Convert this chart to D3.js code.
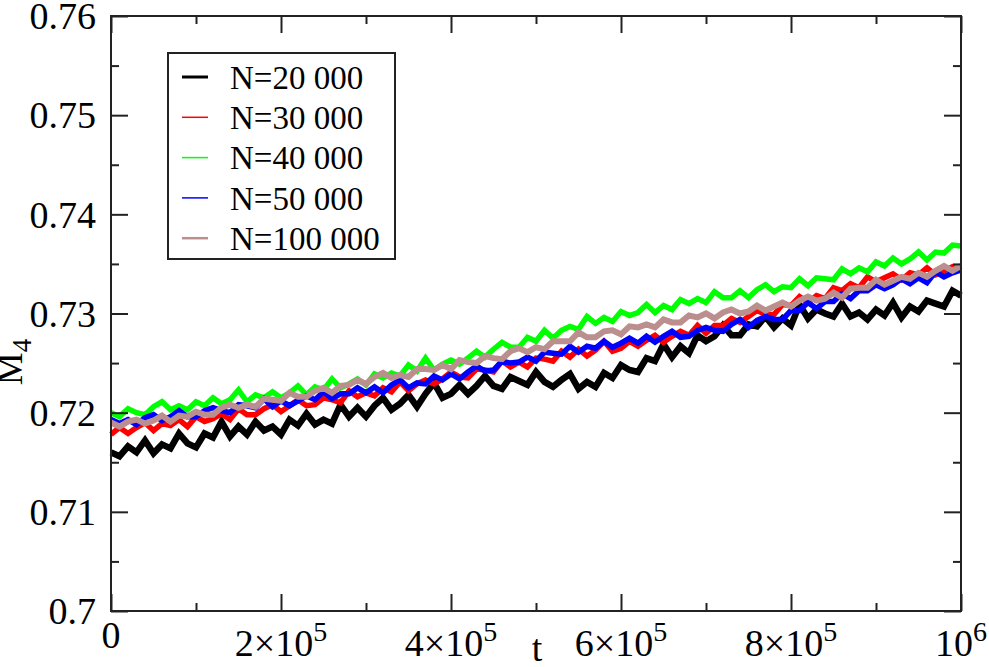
<!DOCTYPE html>
<html>
<head>
<meta charset="utf-8">
<script src="https://cdn.jsdelivr.net/npm/d3@7"></script>
<style>
  body { margin: 0; background: #fff; }
  svg { display: block; }
  text { font-family: "Liberation Serif", "DejaVu Serif", serif; fill: #000; }
</style>
</head>
<body>
<div class="main"></div>
<script>
var width = 989;
var height = 667;
var margin = { left: 111, top: 16, right: 28, bottom: 56 };

// sample times, every 1e4 steps
var tStep = 10000;
var tSamples = d3.range(0, 101).map(k => k * tStep);

var seriesNames = ["N=20 000", "N=30 000", "N=40 000", "N=50 000", "N=100 000"];
var seriesColors = ["#000000", "#ff0000", "#00ff00", "#0000ff", "#bc8f8f"];

var m4N20k = [0.7160,0.7156,0.7166,0.7160,0.7172,0.7159,0.7168,0.7164,0.7179,0.7169,
  0.7165,0.7179,0.7175,0.7191,0.7176,0.7186,0.7178,0.7191,0.7182,0.7186,
  0.7178,0.7193,0.7187,0.7199,0.7188,0.7193,0.7189,0.7208,0.7196,0.7205,
  0.7196,0.7207,0.7215,0.7203,0.7209,0.7218,0.7206,0.7219,0.7230,0.7215,
  0.7219,0.7228,0.7219,0.7227,0.7237,0.7227,0.7224,0.7236,0.7232,0.7228,
  0.7241,0.7231,0.7226,0.7233,0.7239,0.7224,0.7231,0.7226,0.7240,0.7235,
  0.7248,0.7243,0.7241,0.7255,0.7252,0.7269,0.7256,0.7267,0.7260,0.7278,
  0.7272,0.7277,0.7288,0.7278,0.7278,0.7289,0.7287,0.7297,0.7286,0.7295,
  0.7288,0.7309,0.7295,0.7304,0.7300,0.7297,0.7310,0.7297,0.7301,0.7294,
  0.7304,0.7298,0.7311,0.7296,0.7307,0.7302,0.7313,0.7310,0.7307,0.7323,
  0.7318];

var m4N30k = [0.7178,0.7185,0.7179,0.7185,0.7190,0.7182,0.7189,0.7187,0.7193,0.7186,
  0.7196,0.7191,0.7194,0.7199,0.7193,0.7204,0.7198,0.7198,0.7204,0.7208,
  0.7201,0.7207,0.7213,0.7207,0.7208,0.7215,0.7213,0.7210,0.7222,0.7216,
  0.7220,0.7217,0.7225,0.7221,0.7231,0.7222,0.7229,0.7233,0.7229,0.7234,
  0.7241,0.7236,0.7235,0.7244,0.7243,0.7241,0.7252,0.7246,0.7251,0.7246,
  0.7255,0.7254,0.7252,0.7262,0.7256,0.7264,0.7257,0.7263,0.7272,0.7262,
  0.7265,0.7272,0.7267,0.7273,0.7278,0.7271,0.7277,0.7282,0.7278,0.7288,
  0.7280,0.7288,0.7288,0.7295,0.7291,0.7297,0.7303,0.7299,0.7299,0.7309,
  0.7308,0.7317,0.7311,0.7318,0.7315,0.7326,0.7323,0.7330,0.7326,0.7337,
  0.7332,0.7336,0.7340,0.7334,0.7341,0.7339,0.7346,0.7339,0.7343,0.7347,
  0.7343];

var m4N40k = [0.7200,0.7196,0.7204,0.7200,0.7198,0.7206,0.7211,0.7203,0.7207,0.7203,
  0.7211,0.7207,0.7215,0.7209,0.7213,0.7223,0.7211,0.7218,0.7215,0.7221,
  0.7215,0.7220,0.7227,0.7218,0.7226,0.7223,0.7234,0.7225,0.7229,0.7234,
  0.7228,0.7239,0.7235,0.7240,0.7237,0.7248,0.7242,0.7255,0.7243,0.7249,
  0.7253,0.7249,0.7255,0.7262,0.7256,0.7264,0.7271,0.7266,0.7266,0.7276,
  0.7272,0.7283,0.7275,0.7283,0.7287,0.7284,0.7297,0.7290,0.7296,0.7292,
  0.7302,0.7298,0.7301,0.7309,0.7301,0.7308,0.7304,0.7314,0.7310,0.7315,
  0.7311,0.7322,0.7316,0.7316,0.7323,0.7316,0.7324,0.7329,0.7322,0.7327,
  0.7326,0.7335,0.7328,0.7336,0.7335,0.7334,0.7345,0.7340,0.7346,0.7342,
  0.7352,0.7348,0.7356,0.7350,0.7355,0.7362,0.7354,0.7362,0.7361,0.7369,
  0.7368];

var m4N50k = [0.7193,0.7189,0.7193,0.7188,0.7195,0.7198,0.7192,0.7196,0.7202,0.7196,
  0.7196,0.7202,0.7205,0.7202,0.7200,0.7208,0.7207,0.7205,0.7214,0.7206,
  0.7212,0.7207,0.7212,0.7217,0.7213,0.7221,0.7214,0.7219,0.7219,0.7225,
  0.7220,0.7226,0.7220,0.7228,0.7233,0.7225,0.7230,0.7229,0.7237,0.7233,
  0.7239,0.7234,0.7241,0.7247,0.7242,0.7243,0.7252,0.7250,0.7251,0.7256,
  0.7252,0.7261,0.7260,0.7259,0.7267,0.7261,0.7267,0.7265,0.7272,0.7266,
  0.7270,0.7275,0.7270,0.7277,0.7271,0.7277,0.7282,0.7276,0.7277,0.7283,
  0.7286,0.7283,0.7282,0.7289,0.7294,0.7286,0.7293,0.7297,0.7294,0.7294,
  0.7303,0.7303,0.7311,0.7305,0.7312,0.7312,0.7320,0.7315,0.7323,0.7323,
  0.7329,0.7325,0.7329,0.7335,0.7330,0.7336,0.7331,0.7342,0.7337,0.7341,
  0.7344];

var m4N100k = [0.7190,0.7186,0.7191,0.7193,0.7189,0.7192,0.7197,0.7191,0.7197,0.7196,
  0.7201,0.7198,0.7198,0.7205,0.7208,0.7205,0.7208,0.7206,0.7214,0.7213,
  0.7212,0.7220,0.7216,0.7216,0.7222,0.7225,0.7220,0.7227,0.7228,0.7233,
  0.7229,0.7236,0.7240,0.7235,0.7238,0.7236,0.7244,0.7244,0.7243,0.7248,
  0.7244,0.7253,0.7251,0.7250,0.7257,0.7255,0.7254,0.7262,0.7265,0.7261,
  0.7266,0.7264,0.7272,0.7272,0.7272,0.7281,0.7276,0.7276,0.7282,0.7283,
  0.7279,0.7287,0.7286,0.7289,0.7286,0.7294,0.7291,0.7291,0.7298,0.7296,
  0.7300,0.7295,0.7301,0.7304,0.7300,0.7302,0.7308,0.7303,0.7307,0.7311,
  0.7307,0.7313,0.7317,0.7313,0.7315,0.7321,0.7316,0.7325,0.7326,0.7326,
  0.7334,0.7329,0.7333,0.7337,0.7335,0.7341,0.7337,0.7343,0.7348,0.7343,
  0.7348];

var seriesValues = [m4N20k, m4N30k, m4N40k, m4N50k, m4N100k];
var lineWidths = [6.5, 5.5, 5.5, 5.5, 6];

var yTicks = [0.70, 0.71, 0.72, 0.73, 0.74, 0.75, 0.76];
var yTickLabels = ["0.7", "0.71", "0.72", "0.73", "0.74", "0.75", "0.76"];
var yMinor = [0.705, 0.715, 0.725, 0.735, 0.745, 0.755];
var xTicks = [0, 200000, 400000, 600000, 800000, 1000000];
var xTickBase = ["0", "2\u00d710", "4\u00d710", "6\u00d710", "8\u00d710", "10"];
var xTickExp = ["", "5", "5", "5", "5", "6"];
var xMinor = [100000, 300000, 500000, 700000, 900000];

var svg = d3.select(".main")
    .append("svg")
        .attr("width", width)
        .attr("height", height);

var x = d3.scaleLinear()
    .domain([0, 1000000])
    .range([margin.left, width - margin.right]);

var y = d3.scaleLinear()
    .domain([0.70, 0.76])
    .range([height - margin.bottom, margin.top]);

// data lines
var line = d3.line()
    .x((d, i) => x(tSamples[i]))
    .y(d => y(d));

seriesValues.forEach((vals, k) => {
    svg.append("path")
        .datum(vals)
        .attr("d", line)
        .attr("fill", "none")
        .attr("stroke", seriesColors[k])
        .attr("stroke-width", lineWidths[k])
        .attr("stroke-linejoin", "miter")
        .attr("stroke-miterlimit", 10);
});

// axes with inward ticks on all four sides
function styleAxis(g) {
    g.select(".domain").remove();
    g.selectAll("line").attr("stroke", "#222").attr("stroke-width", 2);
    g.selectAll("text").remove();
}

var xb = height - margin.bottom;
var xt = margin.top;
var yl = margin.left;
var yr = width - margin.right;

svg.append("g").attr("transform", `translate(0,${xb})`)
    .call(d3.axisBottom(x).tickValues(xTicks).tickSize(-17)).call(styleAxis);
svg.append("g").attr("transform", `translate(0,${xb})`)
    .call(d3.axisBottom(x).tickValues(xMinor).tickSize(-8)).call(styleAxis);
svg.append("g").attr("transform", `translate(0,${xt})`)
    .call(d3.axisTop(x).tickValues(xTicks).tickSize(-17)).call(styleAxis);
svg.append("g").attr("transform", `translate(0,${xt})`)
    .call(d3.axisTop(x).tickValues(xMinor).tickSize(-8)).call(styleAxis);
svg.append("g").attr("transform", `translate(${yl},0)`)
    .call(d3.axisLeft(y).tickValues(yTicks).tickSize(-17)).call(styleAxis);
svg.append("g").attr("transform", `translate(${yl},0)`)
    .call(d3.axisLeft(y).tickValues(yMinor).tickSize(-8)).call(styleAxis);
svg.append("g").attr("transform", `translate(${yr},0)`)
    .call(d3.axisRight(y).tickValues(yTicks).tickSize(-17)).call(styleAxis);
svg.append("g").attr("transform", `translate(${yr},0)`)
    .call(d3.axisRight(y).tickValues(yMinor).tickSize(-8)).call(styleAxis);

// frame
svg.append("rect")
    .attr("x", yl)
    .attr("y", xt)
    .attr("width", yr - yl)
    .attr("height", xb - xt)
    .attr("fill", "none")
    .attr("stroke", "#222")
    .attr("stroke-width", 2);

// y tick labels
svg.selectAll(".ylab")
    .data(yTicks)
    .enter()
    .append("text")
    .attr("class", "ylab")
    .attr("x", yl - 15)
    .attr("y", d => y(d))
    .attr("dy", "0.35em")
    .attr("text-anchor", "end")
    .style("font-size", "38px")
    .text((d, i) => yTickLabels[i]);

// x tick labels with superscripts
xTicks.forEach((v, i) => {
    var t = svg.append("text")
        .attr("x", x(v))
        .attr("y", xTickExp[i] ? 656 : 648)
        .attr("text-anchor", "middle")
        .style("font-size", "38px");
    t.append("tspan").text(xTickBase[i]);
    if (xTickExp[i]) {
        t.append("tspan")
            .attr("dy", -15)
            .style("font-size", "28px")
            .text(xTickExp[i]);
    }
});

// axis titles
svg.append("text")
    .attr("x", 537)
    .attr("y", 661)
    .attr("text-anchor", "middle")
    .style("font-size", "38px")
    .text("t");

var ytitle = svg.append("text")
    .attr("transform", "translate(22,362) rotate(-90)")
    .attr("text-anchor", "middle")
    .style("font-size", "37px");
ytitle.append("tspan").text("M");
ytitle.append("tspan").attr("dy", 9).style("font-size", "27px").text("4");

// legend
var legend = svg.append("g");
legend.append("rect")
    .attr("x", 168)
    .attr("y", 53)
    .attr("width", 227)
    .attr("height", 206)
    .attr("fill", "#fff")
    .attr("stroke", "#222")
    .attr("stroke-width", 2);

var legendWidths = [3, 1.5, 1.5, 1.5, 2.5];
seriesNames.forEach((name, i) => {
    var ly = 77 + i * 40.3;
    legend.append("line")
        .attr("x1", 182).attr("x2", 208)
        .attr("y1", ly).attr("y2", ly)
        .attr("stroke", seriesColors[i])
        .attr("stroke-width", legendWidths[i]);
    legend.append("text")
        .attr("x", 230)
        .attr("y", ly)
        .attr("dy", "0.36em")
        .style("font-size", "33px")
        .text(name);
});
</script>
</body>
</html>
